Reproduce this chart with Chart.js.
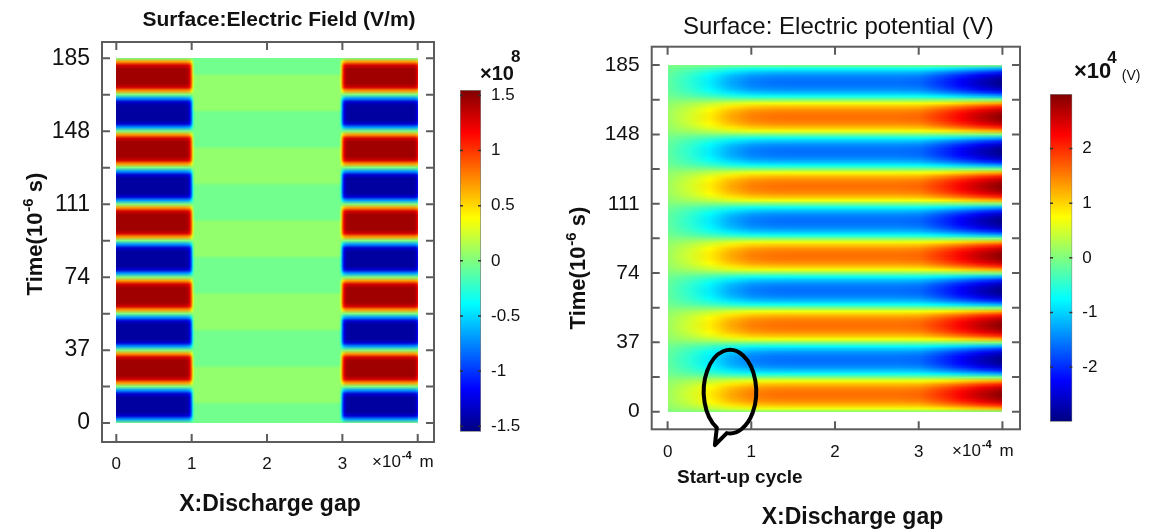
<!DOCTYPE html>
<html>
<head>
<meta charset="utf-8">
<script src="https://cdn.jsdelivr.net/npm/chart.js@4.4.1/dist/chart.umd.min.js"></script>
<style>
    html, body { margin: 0; padding: 0; background: #fff; }
    #page { position: relative; width: 1150px; height: 532px; overflow: hidden; }
    #page canvas { position: absolute; }
</style>
</head>
<body>
<div id="page">
    <canvas id="fieldChart" width="560" height="532" style="left:0;top:0"></canvas>
    <canvas id="fieldBar" width="120" height="420" style="left:440px;top:40px"></canvas>
    <canvas id="potentialChart" width="590" height="532" style="left:560px;top:0"></canvas>
    <canvas id="potentialBar" width="120" height="420" style="left:1030px;top:40px"></canvas>
</div>
<script>
// Axis ticks (time in 1e-6 s, gap position in 1e-4 m)
const timeTicks = [0, 37, 74, 111, 148, 185];
const timeMinorTicks = [18.5, 55.5, 92.5, 129.5, 166.5];
const gapTicks = [0, 1, 2, 3, 4];
const fieldBarTicks = [-1.5, -1, -0.5, 0, 0.5, 1, 1.5];
const potentialBarTicks = [-2, -1, 0, 1, 2];

// Samples along time, one every 1.85 us from 0 to 185 us
const TIME_STEP = 1.85;

// Electric field (x1e8 V/m) next to the electrodes
const electrodeField = [
    0, -0.7, -1.3, -1.45, -1.45, -1.45, -1.45, -1.45, -1.3, -0.7, 0, 0.7, 1.3, 1.45, 1.45, 1.45, 1.45, 1.45, 1.3, 0.7,
    0, -0.7, -1.3, -1.45, -1.45, -1.45, -1.45, -1.45, -1.3, -0.7, 0, 0.7, 1.3, 1.45, 1.45, 1.45, 1.45, 1.45, 1.3, 0.7,
    0, -0.7, -1.3, -1.45, -1.45, -1.45, -1.45, -1.45, -1.3, -0.7, 0, 0.7, 1.3, 1.45, 1.45, 1.45, 1.45, 1.45, 1.3, 0.7,
    0, -0.7, -1.3, -1.45, -1.45, -1.45, -1.45, -1.45, -1.3, -0.7, 0, 0.7, 1.3, 1.45, 1.45, 1.45, 1.45, 1.45, 1.3, 0.7,
    0, -0.7, -1.3, -1.45, -1.45, -1.45, -1.45, -1.45, -1.3, -0.7, 0, 0.7, 1.3, 1.45, 1.45, 1.45, 1.45, 1.45, 1.3, 0.7,
    0
];

// Electric field (x1e8 V/m) in the middle of the gap
const gapField = [
    -0.04, -0.04, -0.04, -0.04, -0.04, -0.04, 0.06, 0.06, 0.06, 0.06, 0.06, 0.06, 0.06, 0.06, 0.06, 0.06, -0.04, -0.04, -0.04, -0.04,
    -0.04, -0.04, -0.04, -0.04, -0.04, -0.04, 0.06, 0.06, 0.06, 0.06, 0.06, 0.06, 0.06, 0.06, 0.06, 0.06, -0.04, -0.04, -0.04, -0.04,
    -0.04, -0.04, -0.04, -0.04, -0.04, -0.04, 0.06, 0.06, 0.06, 0.06, 0.06, 0.06, 0.06, 0.06, 0.06, 0.06, -0.04, -0.04, -0.04, -0.04,
    -0.04, -0.04, -0.04, -0.04, -0.04, -0.04, 0.06, 0.06, 0.06, 0.06, 0.06, 0.06, 0.06, 0.06, 0.06, 0.06, -0.04, -0.04, -0.04, -0.04,
    -0.04, -0.04, -0.04, -0.04, -0.04, -0.04, 0.06, 0.06, 0.06, 0.06, 0.06, 0.06, 0.06, 0.06, 0.06, 0.06, -0.04, -0.04, -0.04, -0.04,
    -0.04
];

// Share of the electrode field at each position (rest is the gap field)
const fieldX = [0, 0.9, 0.95, 0.98, 1, 1.02, 1.05, 2, 2.95, 2.98, 3, 3.02, 3.05, 3.1, 3.95, 3.98, 4];
const electrodeWeight = [1, 1, 0.97, 0.85, 0.5, 0.15, 0, 0, 0, 0.15, 0.5, 0.85, 0.97, 1, 1, 0.95, 0.8];

// Potential swing over time (fraction of the peak at each position)
const potentialWave = [
    0, 0.42, 0.7, 0.88, 0.97, 1, 0.97, 0.88, 0.7, 0.42, 0, -0.42, -0.7, -0.88, -0.97, -1, -0.97, -0.88, -0.7, -0.42,
    0, 0.42, 0.7, 0.88, 0.97, 1, 0.97, 0.88, 0.7, 0.42, 0, -0.42, -0.7, -0.88, -0.97, -1, -0.97, -0.88, -0.7, -0.42,
    0, 0.42, 0.7, 0.88, 0.97, 1, 0.97, 0.88, 0.7, 0.42, 0, -0.42, -0.7, -0.88, -0.97, -1, -0.97, -0.88, -0.7, -0.42,
    0, 0.42, 0.7, 0.88, 0.97, 1, 0.97, 0.88, 0.7, 0.42, 0, -0.42, -0.7, -0.88, -0.97, -1, -0.97, -0.88, -0.7, -0.42,
    0, 0.42, 0.7, 0.88, 0.97, 1, 0.97, 0.88, 0.7, 0.42, 0, -0.42, -0.7, -0.88, -0.97, -1, -0.97, -0.88, -0.7, -0.42,
    0
];

// Peak potential (x1e4 V) across the gap
const potentialX = [0, 0.25, 0.5, 0.75, 1, 1.25, 1.5, 1.75, 2, 2.25, 2.5, 2.75, 3, 3.25, 3.5, 3.75, 4];
const potentialAmp = [0.2, 0.5, 0.85, 1.25, 1.5, 1.58, 1.6, 1.6, 1.6, 1.6, 1.6, 1.6, 1.65, 1.95, 2.3, 2.65, 2.95];

// Start-up cycle marker, in axis units
const startupMark = { x: 0.745, t: 10.7, rx: 0.314, rt: 22.3, tipX: 0.565, tipT: -17.8 };

const FONT = '"Liberation Sans", Arial, sans-serif';
Chart.defaults.font.family = FONT;

const JET_STOPS = [[0, '#000080'], [0.125, '#0000ff'], [0.375, '#00ffff'], [0.625, '#ffff00'], [0.875, '#ff0000'], [1, '#800000']];

function jet(v) {
    v = Math.min(1, Math.max(0, v));
    const c = s => Math.round(255 * Math.min(1, Math.max(0, 1.5 - Math.abs(4 * v - s))));
    return [c(3), c(2), c(1)];
}

// One pixel per (position, time sample); row 0 = last time sample
function surfaceImage(cols, rows, valueAt, lo, hi) {
    const c = document.createElement('canvas');
    c.width = cols;
    c.height = rows;
    const g = c.getContext('2d');
    const im = g.createImageData(cols, rows);
    for (let r = 0; r < rows; r++) {
        const k = rows - 1 - r;
        for (let i = 0; i < cols; i++) {
            const [R, G, B] = jet((valueAt(i, k) - lo) / (hi - lo));
            const o = (r * cols + i) * 4;
            im.data[o] = R; im.data[o + 1] = G; im.data[o + 2] = B; im.data[o + 3] = 255;
        }
    }
    g.putImageData(im, 0, 0);
    return c;
}

function measureRun(ctx, pieces) {
    let w = 0;
    pieces.forEach(p => { ctx.font = p.font; w += (p.gap || 0) + ctx.measureText(p.text).width; });
    return w;
}

function drawRun(ctx, x, y, pieces) {
    ctx.textAlign = 'left';
    ctx.textBaseline = 'alphabetic';
    let cx = x;
    pieces.forEach(p => {
        ctx.font = p.font;
        cx += p.gap || 0;
        ctx.fillText(p.text, cx, y - (p.rise || 0));
        cx += ctx.measureText(p.text).width;
    });
}

function drawText(ctx, text, x, y, font, align) {
    ctx.font = font;
    ctx.textAlign = align || 'center';
    ctx.textBaseline = 'alphabetic';
    ctx.fillText(text, x, y);
}

// Rotated "Time(10^-6 s)" title, centred on (x, y), baseline on the right
function drawTimeTitle(ctx, x, y) {
    const pieces = [
        { text: 'Time(10', font: 'bold 22px ' + FONT },
        { text: '-6', font: 'bold 15px ' + FONT, rise: 9, gap: 1 },
        { text: ' s)', font: 'bold 22px ' + FONT }
    ];
    const w = measureRun(ctx, pieces);
    ctx.save();
    ctx.translate(x, y);
    ctx.rotate(-Math.PI / 2);
    drawRun(ctx, -w / 2, 0, pieces);
    ctx.restore();
}

function drawUnit(ctx, x, y) {
    drawRun(ctx, x, y, [
        { text: '\u00d710', font: '17px ' + FONT },
        { text: '-4', font: 'bold 11px ' + FONT, rise: 8, gap: 1 },
        { text: 'm', font: '17px ' + FONT, gap: 8 }
    ]);
}

// Frame with inward ticks on all four sides
function drawFrame(chart) {
    const { ctx, chartArea: a, scales: { x, y } } = chart;
    ctx.save();
    ctx.strokeStyle = '#5c5c5c';
    ctx.lineWidth = 2;
    ctx.strokeRect(a.left, a.top, a.right - a.left, a.bottom - a.top);
    ctx.beginPath();
    gapTicks.forEach(v => {
        const px = x.getPixelForValue(v);
        ctx.moveTo(px, a.top); ctx.lineTo(px, a.top + 8);
        ctx.moveTo(px, a.bottom); ctx.lineTo(px, a.bottom - 8);
    });
    timeTicks.concat(timeMinorTicks).forEach(v => {
        const py = y.getPixelForValue(v);
        ctx.moveTo(a.left, py); ctx.lineTo(a.left + 8, py);
        ctx.moveTo(a.right, py); ctx.lineTo(a.right - 8, py);
    });
    ctx.stroke();
    ctx.restore();
}

// Columns of the image sit at xs; each strip between two columns is stretched
// onto the x scale so the colours blend smoothly between neighbours
function surfacePlugin(image, xs, decorate) {
    return {
        id: 'surface',
        beforeDatasetsDraw(chart) {
            const { ctx, scales: { x, y } } = chart;
            const rows = image.height;
            const y0 = Math.round(y.getPixelForValue((rows - 1) * TIME_STEP));
            const y1 = Math.round(y.getPixelForValue(0));
            ctx.save();
            ctx.imageSmoothingEnabled = true;
            for (let j = 0; j < xs.length - 1; j++) {
                const a = Math.round(x.getPixelForValue(xs[j]));
                const b = Math.round(x.getPixelForValue(xs[j + 1]));
                if (b <= a) continue;
                ctx.drawImage(image, j + 0.5, 0.5, 1, rows - 1, a, y0, b - a, y1 - y0);
            }
            ctx.restore();
        },
        afterDraw(chart) {
            drawFrame(chart);
            chart.ctx.save();
            chart.ctx.fillStyle = '#111';
            decorate(chart);
            chart.ctx.restore();
        }
    };
}

function surfaceChart(id, image, xs, range, area, yFontSize, xPad, decorate) {
    const canvas = document.getElementById(id);
    return new Chart(canvas, {
        type: 'scatter',
        data: { datasets: [] },
        options: {
            responsive: false,
            animation: false,
            devicePixelRatio: 1,
            events: [],
            layout: {
                padding: {
                    left: 0,
                    top: area.top,
                    right: canvas.width - area.right,
                    bottom: canvas.height - area.bottom - 40
                }
            },
            plugins: { legend: { display: false }, tooltip: { enabled: false } },
            scales: {
                x: {
                    type: 'linear',
                    min: range.xMin, max: range.xMax,
                    afterBuildTicks: s => { s.ticks = gapTicks.map(v => ({ value: v })); },
                    afterFit: s => { s.height = 40; },
                    grid: { display: false, drawTicks: false },
                    border: { display: false },
                    ticks: {
                        color: '#111', padding: xPad, autoSkip: false, maxRotation: 0,
                        font: { size: 17 },
                        callback: v => (v === 4 ? '' : String(v))
                    }
                },
                y: {
                    type: 'linear',
                    min: range.yMin, max: range.yMax,
                    afterBuildTicks: s => { s.ticks = timeTicks.map(v => ({ value: v })); },
                    afterFit: s => { s.width = area.left; },
                    grid: { display: false, drawTicks: false },
                    border: { display: false },
                    ticks: {
                        color: '#111', padding: 12, autoSkip: false,
                        font: { size: yFontSize },
                        callback: v => String(v)
                    }
                }
            }
        },
        plugins: [surfacePlugin(image, xs, decorate)]
    });
}

function colorBar(id, lo, hi, ticks, pad, decorate) {
    return new Chart(document.getElementById(id), {
        type: 'bar',
        data: {
            labels: [''],
            datasets: [{
                data: [[lo, hi]],
                backgroundColor: c => {
                    const area = c.chart.chartArea;
                    if (!area) return 'transparent';
                    const g = c.chart.ctx.createLinearGradient(0, area.bottom, 0, area.top);
                    JET_STOPS.forEach(([p, col]) => g.addColorStop(p, col));
                    return g;
                },
                borderColor: '#808080',
                borderWidth: 1,
                borderSkipped: false,
                barPercentage: 1,
                categoryPercentage: 1
            }]
        },
        options: {
            responsive: false,
            animation: false,
            devicePixelRatio: 1,
            events: [],
            layout: { padding: pad },
            plugins: { legend: { display: false }, tooltip: { enabled: false } },
            scales: {
                x: { display: false },
                y: {
                    position: 'right',
                    min: lo, max: hi,
                    afterBuildTicks: s => { s.ticks = ticks.map(v => ({ value: v })); },
                    afterFit: s => { s.width = 60; },
                    grid: { display: false, drawTicks: false },
                    border: { display: false },
                    ticks: { color: '#111', padding: 10, font: { size: 17 }, callback: v => String(v) }
                }
            }
        },
        plugins: [{
            id: 'barMarks',
            afterDatasetsDraw(chart) {
                const { ctx, chartArea: a, scales: { y } } = chart;
                ctx.save();
                ctx.strokeStyle = '#333';
                ctx.lineWidth = 1.5;
                ctx.beginPath();
                ticks.forEach(v => {
                    const py = y.getPixelForValue(v);
                    ctx.moveTo(a.left, py); ctx.lineTo(a.left + 3, py);
                    ctx.moveTo(a.right, py); ctx.lineTo(a.right - 3, py);
                });
                ctx.stroke();
                ctx.restore();
            },
            afterDraw(chart) {
                chart.ctx.save();
                chart.ctx.fillStyle = '#111';
                decorate(chart.ctx);
                chart.ctx.restore();
            }
        }]
    });
}

// Left: electric field, electrodes on both sides of the gap
const fieldImage = surfaceImage(fieldX.length, electrodeField.length, (i, k) => {
    const w = electrodeWeight[i];
    return w * electrodeField[k] + (1 - w) * gapField[k];
}, -1.55, 1.55);

surfaceChart('fieldChart', fieldImage, fieldX,
    { xMin: -0.19, xMax: 4.216, yMin: -9.6, yMax: 193.3 },
    { left: 102, right: 434, top: 42, bottom: 442 }, 23, 12,
    chart => {
        const ctx = chart.ctx;
        drawText(ctx, 'Surface:Electric Field (V/m)', 279, 26, 'bold 21px ' + FONT);
        drawText(ctx, 'X:Discharge gap', 270, 511, 'bold 23px ' + FONT);
        drawTimeTitle(ctx, 42, 234);
        drawUnit(ctx, 372, 467);
    });

colorBar('fieldBar', -1.55, 1.55, fieldBarTicks, { left: 20, right: 19, top: 50, bottom: 28.3 }, ctx => {
    drawRun(ctx, 40, 40, [
        { text: '\u00d710', font: 'bold 20px ' + FONT },
        { text: '8', font: 'bold 17px ' + FONT, rise: 18, gap: -3 }
    ]);
});

// Right: electric potential across the gap
const potentialImage = surfaceImage(potentialX.length, potentialWave.length,
    (i, k) => potentialAmp[i] * potentialWave[k], -3, 3);

surfaceChart('potentialChart', potentialImage, potentialX,
    { xMin: -0.19, xMax: 4.21, yMin: -9.4, yMax: 194.8 },
    { left: 91.7, right: 460, top: 46.7, bottom: 429.3 }, 21, 13,
    chart => {
        const { ctx, scales: { x, y } } = chart;
        drawText(ctx, 'Surface: Electric potential (V)', 278.4, 34, '24px ' + FONT);
        drawText(ctx, 'X:Discharge gap', 292.5, 524, 'bold 23px ' + FONT);
        drawText(ctx, 'Start-up cycle', 117, 483, 'bold 19px ' + FONT, 'left');
        drawTimeTitle(ctx, 25, 268);
        drawUnit(ctx, 392, 456);

        // hand-drawn style loop around the first cycle
        const m = startupMark;
        const cx = x.getPixelForValue(m.x), cy = y.getPixelForValue(m.t);
        const rx = x.getPixelForValue(m.x + m.rx) - cx;
        const ry = cy - y.getPixelForValue(m.t + m.rt);
        ctx.beginPath();
        ctx.ellipse(cx, cy, rx, ry, 0, 120 * Math.PI / 180, (97 + 360) * Math.PI / 180);
        ctx.lineTo(x.getPixelForValue(m.tipX), y.getPixelForValue(m.tipT));
        ctx.closePath();
        ctx.lineWidth = 4;
        ctx.lineJoin = 'round';
        ctx.strokeStyle = '#000';
        ctx.stroke();
    });

colorBar('potentialBar', -3, 3, potentialBarTicks, { left: 20, right: 17.7, top: 54, bottom: 38.3 }, ctx => {
    drawRun(ctx, 44, 38, [
        { text: '\u00d710', font: 'bold 22px ' + FONT },
        { text: '4', font: 'bold 17px ' + FONT, rise: 15, gap: -4 },
        { text: '(V)', font: '14px ' + FONT, rise: -2, gap: 5 }
    ]);
});
</script>
</body>
</html>
